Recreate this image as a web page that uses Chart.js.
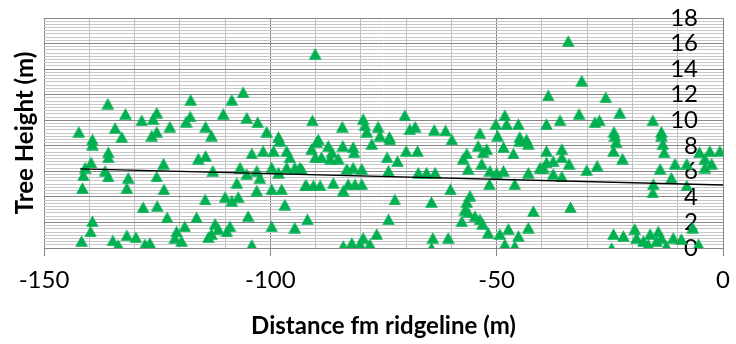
<!DOCTYPE html>
<html>
<head>
<meta charset="utf-8">
<script src="https://cdn.jsdelivr.net/npm/chart.js@4.4.1/dist/chart.umd.min.js"></script>
<style>
  html, body { margin: 0; padding: 0; background: #fff; }
  #grafico { display: block; }
</style>
</head>
<body>
<canvas id="grafico" width="736" height="344"></canvas>
<script>
// Distancia a la cresta (m) y altura del árbol (m)
const distancia = [
  -135.9, -132.0, -117.6, -106.0, -108.5, -110.4, -125.1, -128.4, -125.9, -117.7,
  -118.6, -105.2, -102.8, -100.8, -142.3, -134.3, -122.2, -114.3, -125.1, -126.2,
  -132.8, -113.0, -98.2, -139.3,
  -139.3, -135.8, -135.8, -139.6, -140.9, -141.3, -141.5, -136.5, -135.8, -131.4,
  -131.7, -123.6, -125.1, -123.5, -128.1, -125.0, -122.8, -139.3, -139.7, -141.7,
  -134.8, -133.6, -131.7, -129.7, -127.7, -126.6, -120.7, -118.9, -121.1, -119.6,
  -116.3, -114.4, -115.9, -114.3, -112.7, -112.2, -113.0, -111.5, -113.7, -108.9,
  -109.6, -110.0, -108.5, -107.1, -107.4, -106.7, -104.1, -101.6, -99.3, -97.9,
  -96.4, -95.7, -103.0, -105.2, -102.3, -99.7, -98.2, -96.4, -94.6, -93.5,
  -103.0, -99.7, -97.5, -92.3, -96.8, -104.9, -99.7, -94.6, -104.1,
  -90.1, -90.7, -84.1, -79.5, -79.1, -78.7, -76.2, -75.8, -73.7, -70.3,
  -69.2, -68.0, -63.8, -61.3, -53.7, -50.2, -48.2, -47.8, -45.2, -49.8,
  -44.9, -43.4, -38.6, -39.0, -89.4,
  -34.2, -31.2, -25.9, -22.8, -31.8, -36.0, -28.3, -27.3, -24.1, -15.5, -13.6,
  -23.9, -23.6, -24.2, -22.2, -13.6, -13.3, -13.0, -10.6, -13.9, -11.4,
  -8.0, -8.0, -5.2, -4.0, -2.9, -2.5, -0.7, -4.0, -15.4, -15.5,
  -33.7, -30.1, -27.8, -24.2, -24.6, -22.0, -19.5, -19.1, -17.6, -16.5,
  -16.1, -14.3, -14.7, -13.6, -12.5, -11.0, -9.2, -6.7, -5.4, -39.0,
  -35.6, -35.6, -37.5, -34.0, -39.7, -37.5, -35.6,
  -89.8, -90.9, -87.2, -86.4, -90.1, -88.7, -86.8, -85.0, -84.0, -81.7,
  -81.5, -77.6, -74.2, -71.9, -70.0, -67.5, -83.1, -81.7, -79.8, -93.1,
  -92.0, -90.5, -89.0, -86.1, -83.9, -82.8, -81.3, -79.8, -73.9, -67.3,
  -65.5, -63.6, -60.2, -72.5, -64.4, -73.9, -91.8, -76.5, -79.5, -78.0,
  -80.2, -82.0, -83.9, -64.1, -64.4, -60.7, -56.6, -57.4, -56.3, -54.1,
  -53.0, -52.2, -53.3, -51.5, -50.0, -48.5, -48.5, -46.3, -44.9, -43.0,
  -43.0, -40.4, -39.0, -51.6, -46.0, -55.9, -56.6, -57.0, -56.3, -57.7,
  -54.8, -53.7, -53.1, -51.9, -49.3, -47.4, -48.2, -46.0, -45.2, -43.0,
  -41.9, -59.9, -73.6
];
const altura = [
  11.3, 10.5, 11.6, 12.2, 11.6, 10.5, 10.6, 10.0, 10.1, 10.3,
  9.9, 10.2, 9.85, 9.1, 9.1, 9.4, 9.5, 9.5, 9.1, 8.8,
  8.7, 8.8, 8.7, 8.5,
  8.1, 7.5, 7.1, 6.7, 6.3, 5.7, 4.7, 6.05, 5.6, 5.5,
  4.7, 6.6, 5.6, 4.6, 3.2, 3.3, 2.4, 2.1, 1.3, 0.55,
  0.6, 0.24, 1.0, 0.86, 0.3, 0.4, 1.3, 1.7, 0.8, 0.55,
  2.4, 3.8, 7.0, 7.2, 6.05, 1.9, 1.1, 1.5, 0.86, 1.7,
  1.3, 4.0, 3.7, 4.0, 5.1, 6.3, 7.4, 7.6, 7.6, 8.4,
  7.6, 7.1, 6.05, 5.8, 5.5, 6.3, 5.9, 6.3, 6.3, 6.3,
  4.5, 4.6, 4.6, 4.9, 3.4, 2.5, 1.7, 1.6, 0.24,
  15.2, 10.0, 9.5, 10.1, 9.6, 9.1, 9.5, 8.8, 8.7, 10.4,
  9.3, 9.5, 9.25, 9.2, 9.0, 9.7, 10.4, 9.7, 9.7, 8.8,
  8.7, 8.5, 11.95, 9.7, 8.5,
  16.2, 13.1, 11.8, 10.6, 10.5, 10.0, 9.85, 10.0, 9.1, 10.0, 9.1,
  8.8, 8.3, 7.6, 7.0, 8.8, 8.15, 7.5, 6.6, 6.2, 5.5,
  6.6, 4.9, 7.5, 7.0, 7.6, 6.6, 7.6, 6.3, 5.0, 4.35,
  3.2, 6.1, 6.45, 1.1, 0.0, 0.95, 1.5, 0.8, 0.55, 0.3,
  1.1, 1.3, 0.55, 0.8, 0.16, 0.8, 0.7, 1.6, 0.3, 7.6,
  7.75, 7.1, 6.8, 6.6, 6.3, 5.8, 5.6,
  8.3, 7.75, 8.0, 7.5, 7.1, 7.1, 7.0, 7.0, 8.0, 7.9,
  7.5, 8.15, 7.1, 6.8, 7.6, 7.6, 6.2, 6.3, 6.2, 6.2,
  4.9, 4.9, 4.9, 5.1, 4.5, 5.0, 5.0, 5.0, 6.05, 5.9,
  5.9, 5.9, 4.6, 3.8, 3.6, 2.25, 2.25, 1.1, 0.8, 0.3,
  0.3, 0.4, 0.16, 0.8, 0.0, 0.8, 7.4, 7.0, 6.2, 8.0,
  7.5, 7.75, 6.6, 6.05, 5.9, 6.05, 7.9, 7.4, 8.4, 8.15,
  5.9, 6.3, 6.7, 5.0, 5.0, 4.1, 3.6, 3.0, 2.8, 2.1,
  2.5, 2.25, 1.9, 1.2, 1.1, 1.5, 0.3, 0.16, 0.95, 1.6,
  2.9, 8.5, 8.5
];

// Línea de tendencia (extremos)
const tendenciaX = [-142, 0];
const tendenciaY = [6.2, 4.93];

// Rótulos de los ejes
const etiquetasX = [-150, -100, -50, 0];
const etiquetasY = [0, 2, 4, 6, 8, 10, 12, 14, 16, 18];

const puntos = distancia.map((d, i) => ({ x: d, y: altura[i] }));
const tendencia = tendenciaX.map((d, i) => ({ x: d, y: tendenciaY[i] }));

// Marcador triangular verde (estilo Excel)
function crearTriangulo() {
    const c = document.createElement('canvas');
    c.width = 13;
    c.height = 12;
    const g = c.getContext('2d');
    g.fillStyle = '#00b050';
    g.beginPath();
    g.moveTo(6.5, 0.3);
    g.lineTo(12.8, 11.7);
    g.lineTo(0.2, 11.7);
    g.closePath();
    g.fill();
    return c;
}

const fuente = 'Lato, "Open Sans", sans-serif';

new Chart(document.getElementById('grafico'), {
    type: 'scatter',
    data: {
        datasets: [
            {
                type: 'line',
                data: tendencia,
                borderColor: '#000000',
                borderWidth: 1.3,
                pointRadius: 0,
                fill: false
            },
            {
                data: puntos,
                pointStyle: crearTriangulo(),
                pointRadius: 6,
                backgroundColor: '#00b050',
                borderColor: '#00b050'
            }
        ]
    },
    options: {
        responsive: false,
        animation: false,
        devicePixelRatio: 1,
        layout: { padding: { top: 18, left: 0, right: 0, bottom: 0 } },
        plugins: {
            legend: { display: false },
            tooltip: { enabled: false }
        },
        scales: {
            x: {
                type: 'linear',
                position: 'bottom',
                min: -150,
                max: 0,
                afterFit: (s) => {
                    s.height = 96;
                    s.paddingLeft = 0;
                    s.paddingRight = 0;
                },
                ticks: {
                    stepSize: 10,
                    autoSkip: false,
                    maxRotation: 0,
                    padding: 10,
                    color: '#000',
                    font: { family: fuente, size: 24 },
                    callback: (v) => etiquetasX.includes(v) ? String(v) : ''
                },
                grid: {
                    color: (ctx) => etiquetasX.includes(ctx.tick.value) ? '#868686' : '#c0c0c0',
                    tickColor: (ctx) => etiquetasX.includes(ctx.tick.value) ? '#868686' : 'rgba(0,0,0,0)',
                    tickLength: 8
                },
                border: { color: '#868686' },
                title: {
                    display: true,
                    text: 'Distance fm ridgeline (m)',
                    color: '#000',
                    font: { family: fuente, size: 24, weight: 'bold' },
                    padding: { top: 0, bottom: 3 }
                }
            },
            y: {
                type: 'linear',
                position: 'right',
                min: 0,
                max: 18,
                afterFit: (s) => {
                    s.width = 13;
                    s.paddingTop = 0;
                    s.paddingBottom = 0;
                },
                ticks: {
                    stepSize: 0.25,
                    autoSkip: false,
                    mirror: true,
                    padding: -25,
                    color: '#000',
                    font: { family: fuente, size: 24 },
                    callback: (v) => etiquetasY.includes(v) ? String(v) : ''
                },
                grid: {
                    color: (ctx) => etiquetasY.includes(ctx.tick.value) ? '#868686' : '#c8c8c8',
                    drawTicks: false
                },
                border: { color: '#868686' }
            },
            yTitulo: {
                type: 'linear',
                position: 'left',
                min: 0,
                max: 18,
                afterFit: (s) => {
                    s.width = 44;
                    s.paddingTop = 0;
                    s.paddingBottom = 0;
                },
                ticks: { display: false },
                grid: { display: false, drawTicks: false },
                border: { display: false },
                title: {
                    display: true,
                    text: 'Tree Height (m)',
                    color: '#000',
                    font: { family: fuente, size: 24, weight: 'bold' },
                    padding: { top: 11, bottom: 0 }
                }
            }
        }
    }
});
</script>
</body>
</html>
